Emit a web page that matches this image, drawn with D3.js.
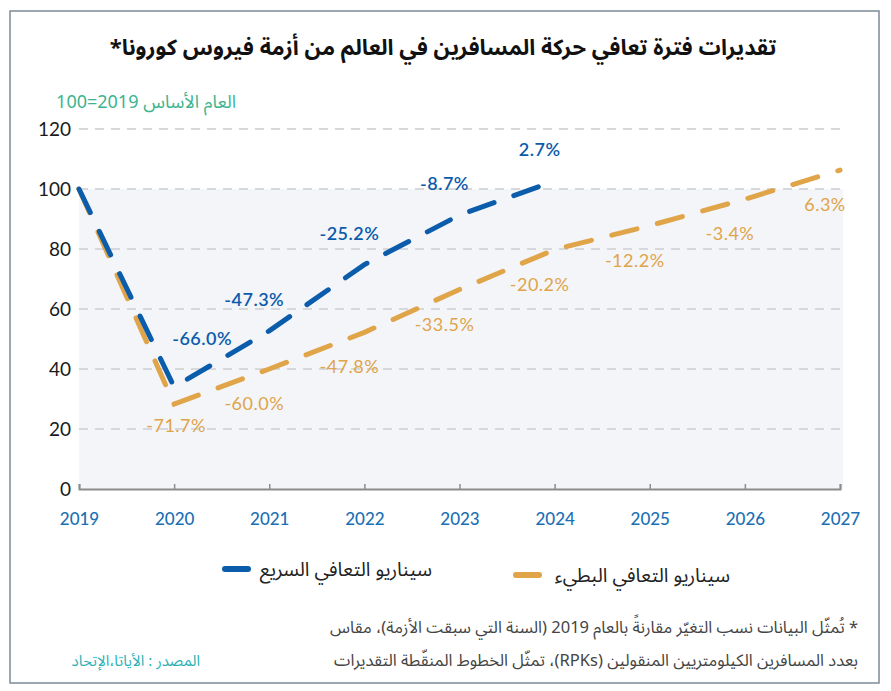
<!DOCTYPE html>
<html>
<head>
<meta charset="utf-8">
<script src="https://cdn.jsdelivr.net/npm/d3@7"></script>
<style>
	body { margin: 0; background: #fff; }
	svg text { font-family: 'Lato', 'Noto Sans', sans-serif; }
	.ar { font-family: 'Noto Sans Arabic', 'DejaVu Sans', sans-serif; }
</style>
</head>
<body>
<svg id="chart" width="891" height="691"></svg>
<script>
var years = [2019, 2020, 2021, 2022, 2023, 2024, 2025, 2026, 2027];
var yTicks = [0, 20, 40, 60, 80, 100, 120];

// fast recovery scenario (index, 2019 = 100)
var fastYears = [2019, 2020, 2021, 2022, 2023, 2024];
var fastValues = [100, 34.0, 52.7, 74.8, 91.3, 102.7];
var fastLabels = ['', '-66.0%', '-47.3%', '-25.2%', '-8.7%', '2.7%'];

// slow recovery scenario
var slowYears = [2019, 2020, 2021, 2022, 2023, 2024, 2025, 2026, 2027];
var slowValues = [100, 28.3, 40.0, 52.2, 66.5, 79.8, 87.8, 96.6, 106.3];
var slowLabels = ['', '-71.7%', '-60.0%', '-47.8%', '-33.5%', '-20.2%', '-12.2%', '-3.4%', '6.3%'];

var TITLE = 'تقديرات فترة تعافي حركة المسافرين في العالم من أزمة فيروس كورونا*';
var Y_LABEL = 'العام الأساس 2019=100';
var LEGEND_FAST = 'سيناريو التعافي السريع';
var LEGEND_SLOW = 'سيناريو التعافي البطيء';
var NOTE_1 = '* تُمثّل البيانات نسب التغيّر مقارنةً بالعام 2019 (السنة التي سبقت الأزمة)، مقاس';
var NOTE_2 = 'بعدد المسافرين الكيلومتريين المنقولين (RPKs)، تمثّل الخطوط المنقّطة التقديرات';
var SOURCE = 'المصدر : الأياتا،الإتحاد';

var BLUE = '#0b5cab',
	ORANGE = '#e0a449';

var svg = d3.select('#chart');

// frame
svg.append('rect')
	.attr('x', 10).attr('y', 11)
	.attr('width', 869).attr('height', 672)
	.attr('fill', 'none')
	.attr('stroke', '#7d8a97')
	.attr('stroke-width', 1.5);

var x = d3.scaleLinear().domain([2019, 2027]).range([79, 840]);
var y = d3.scaleLinear().domain([0, 120]).range([489, 129]);

// shaded area below 100
svg.append('rect')
	.attr('x', x(2019)).attr('y', y(100))
	.attr('width', x(2027) - x(2019) + 3)
	.attr('height', y(0) - y(100))
	.attr('fill', '#f3f5f9');

// gridlines
svg.append('g')
	.selectAll('line')
	.data(yTicks.filter(function(d) { return d > 0; }))
	.enter()
	.append('line')
	.attr('x1', x(2019)).attr('x2', x(2027))
	.attr('y1', function(d) { return y(d); })
	.attr('y2', function(d) { return y(d); })
	.attr('stroke', '#d6d8db')
	.attr('stroke-width', 2)
	.attr('stroke-dasharray', '9 7');

// x axis
var xAxis = svg.append('g')
	.attr('transform', 'translate(0,' + y(0) + ')')
	.call(d3.axisBottom(x).tickValues(years).tickFormat(d3.format('d')).tickSizeInner(-5).tickSizeOuter(-5).tickPadding(24));
xAxis.select('.domain').attr('stroke', '#8c8c8c').attr('stroke-width', 2);
xAxis.selectAll('.tick line').attr('stroke', '#8c8c8c').attr('stroke-width', 1.5);
xAxis.selectAll('.tick text')
	.attr('fill', '#1a6fb5')
	.style('font-size', '17px')
	.style('font-weight', '500');

// y axis labels
var yAxis = svg.append('g')
	.attr('transform', 'translate(' + x(2019) + ',0)')
	.call(d3.axisLeft(y).tickValues(yTicks).tickSize(0).tickPadding(8));
yAxis.select('.domain').remove();
yAxis.selectAll('.tick text')
	.attr('fill', '#1a1a1a')
	.style('font-size', '19px');

var line = d3.line()
	.x(function(d) { return x(d[0]); })
	.y(function(d) { return y(d[1]); });

function series(xs, vs, color) {
	svg.append('path')
		.datum(d3.zip(xs, vs))
		.attr('d', line)
		.attr('fill', 'none')
		.attr('stroke', color)
		.attr('stroke-width', 5)
		.attr('stroke-linecap', 'round')
		.attr('stroke-dasharray', '26 21');
}

series(slowYears, slowValues, ORANGE);
series(fastYears, fastValues, BLUE);

// value labels
svg.append('g')
	.selectAll('text')
	.data(d3.zip(fastYears, fastValues, fastLabels).filter(function(d) { return d[2]; }))
	.enter()
	.append('text')
	.attr('x', function(d, i) { return x(d[0]) + (i == 0 ? 28 : -15); })
	.attr('y', function(d, i) { return y(d[1]) + (i == 0 ? -42 : -25); })
	.attr('text-anchor', 'middle')
	.attr('fill', BLUE)
	.style('font-size', '18px')
	.style('font-weight', '600')
	.style('letter-spacing', '0.5px')
	.text(function(d) { return d[2]; });

svg.append('g')
	.selectAll('text')
	.data(d3.zip(slowYears, slowValues, slowLabels).filter(function(d) { return d[2]; }))
	.enter()
	.append('text')
	.attr('x', function(d, i) { return x(d[0]) + (i == 0 ? 2 : -15); })
	.attr('y', function(d, i) { return y(d[1]) + (i == 0 ? 28 : 41); })
	.attr('text-anchor', 'middle')
	.attr('fill', ORANGE)
	.style('font-size', '18px')
	.style('letter-spacing', '0.5px')
	.text(function(d) { return d[2]; });

// title and axis caption
svg.append('text')
	.attr('class', 'ar')
	.attr('x', 443).attr('y', 55)
	.attr('text-anchor', 'middle')
	.attr('direction', 'rtl')
	.attr('fill', '#111')
	.style('font-size', '22px')
	.style('font-weight', 'bold')
	.text(TITLE);

svg.append('text')
	.attr('class', 'ar')
	.attr('x', 236).attr('y', 108)
	.attr('text-anchor', 'start')
	.attr('direction', 'rtl')
	.attr('fill', '#3cb48f')
	.style('font-size', '18px')
	.text(Y_LABEL);

// legend
var legend = [
	{ label: LEGEND_FAST, color: BLUE, x0: 225, right: 432, cy: 569 },
	{ label: LEGEND_SLOW, color: ORANGE, x0: 516, right: 730, cy: 575 }
];
legend.forEach(function(l) {
	svg.append('line')
		.attr('x1', l.x0).attr('x2', l.x0 + 23)
		.attr('y1', l.cy).attr('y2', l.cy)
		.attr('stroke', l.color)
		.attr('stroke-width', 6)
		.attr('stroke-linecap', 'round');
	svg.append('text')
		.attr('class', 'ar')
		.attr('x', l.right).attr('y', l.cy + 7)
		.attr('text-anchor', 'start')
		.attr('direction', 'rtl')
		.attr('fill', '#222')
		.style('font-size', '19.5px')
		.text(l.label);
});

// notes
svg.append('text')
	.attr('class', 'ar')
	.attr('x', 858).attr('y', 633)
	.attr('text-anchor', 'start')
	.attr('direction', 'rtl')
	.attr('fill', '#444')
	.style('font-size', '16.5px')
	.text(NOTE_1);

svg.append('text')
	.attr('class', 'ar')
	.attr('x', 858).attr('y', 666)
	.attr('text-anchor', 'start')
	.attr('direction', 'rtl')
	.attr('fill', '#444')
	.style('font-size', '16.5px')
	.text(NOTE_2);

svg.append('text')
	.attr('class', 'ar')
	.attr('x', 200).attr('y', 666)
	.attr('text-anchor', 'start')
	.attr('direction', 'rtl')
	.attr('fill', '#2bb0b4')
	.style('font-size', '15px')
	.text(SOURCE);
</script>
</body>
</html>
